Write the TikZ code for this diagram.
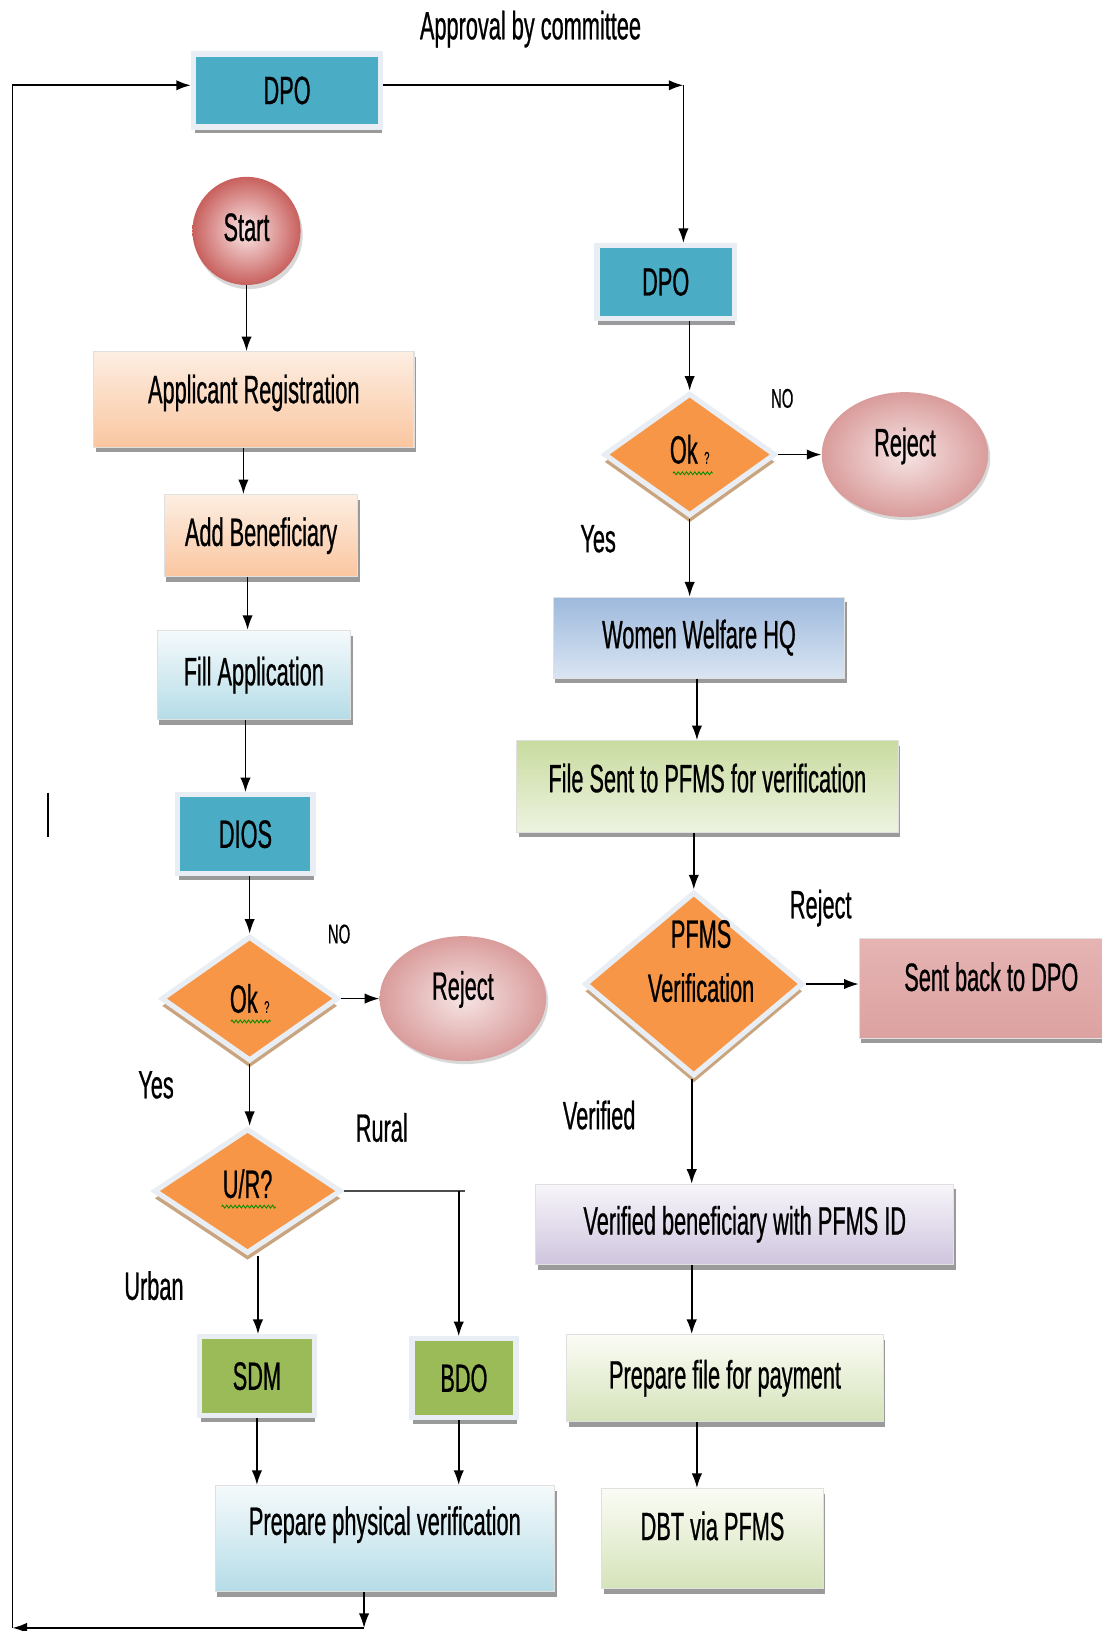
\documentclass[tikz,border=0pt]{standalone}
\usepackage{fontspec}
\setmainfont{Liberation Sans}[FakeStretch=0.55,FakeBold=0.6]
\usetikzlibrary{shapes.geometric,shadows,arrows.meta,decorations.pathmorphing}
\definecolor{tealc}{HTML}{4BACC6}
\definecolor{greenc}{HTML}{9BBB59}
\definecolor{orangec}{HTML}{F79646}
\definecolor{framec}{HTML}{E8EEF3}
\definecolor{tanc}{HTML}{C9A47E}
\definecolor{shadc}{HTML}{9A9A9A}
\definecolor{rejin}{HTML}{F6E4E4}
\definecolor{rejout}{HTML}{D99C9B}
\definecolor{peachtop}{HTML}{FDEEE2}
\definecolor{peachbot}{HTML}{FAC6A0}
\definecolor{lbtop}{HTML}{F5FAFC}
\definecolor{lbbot}{HTML}{B5DCE7}
\definecolor{lgtop}{HTML}{FBFCF5}
\definecolor{lgbot}{HTML}{D5E3BA}
\definecolor{startin}{HTML}{FBE8E8}
\definecolor{startout}{HTML}{C8605D}
\definecolor{wwtop}{HTML}{9DB9DC}
\definecolor{wwbot}{HTML}{DAE5F3}
\definecolor{fstop}{HTML}{C9DBA0}
\definecolor{fsbot}{HTML}{EDF3E0}
\definecolor{sbtop}{HTML}{E5B4B3}
\definecolor{sbmid}{HTML}{F4DEDE}
\definecolor{sbbot}{HTML}{DCA2A1}
\definecolor{vbtop}{HTML}{F7F5FA}
\definecolor{vbbot}{HTML}{CFC5DE}
\begin{document}
\begin{tikzpicture}[x=0.5pt,y={(0pt,-0.5pt)},
  every node/.style={font=\fontsize{19}{22}\selectfont, text=black},
  up/.style={text height=13.6pt, text depth=#1},
  lbl/.style={inner sep=0pt},
  sm/.style={inner sep=0pt, font=\fontsize{13}{15}\selectfont},
  framebox/.style={rectangle, draw=framec, line width=2.5pt, inner sep=0pt,
    drop shadow={shadow xshift=0.5pt, shadow yshift=-3pt, fill=shadc, opacity=1}},
  gbox/.style={rectangle, draw=black!12, line width=0.5pt, inner sep=0pt,
    drop shadow={shadow xshift=1pt, shadow yshift=-2.5pt, fill=shadc, opacity=1}},
  dia/.style={diamond, fill=orangec, draw=framec, line width=2.5pt, inner sep=0pt,
    drop shadow={shadow xshift=0pt, shadow yshift=-3.5pt, fill=tanc, opacity=1}},
  rej/.style={ellipse, inner sep=0pt, draw=none, inner color=rejin, outer color=rejout,
    minimum width=80pt, minimum height=60pt,
    drop shadow={shadow xshift=1pt, shadow yshift=-1.5pt, fill=black!25, opacity=0.6}},
  arr/.style={-{Latex[length=7pt,width=5pt]}, line width=0.75pt},
  spell/.style={decorate, decoration={zigzag, segment length=2pt, amplitude=0.7pt},
    draw=green!55!black, line width=0.4pt},
  peach/.style={gbox, top color=peachtop, bottom color=peachbot},
  lblue/.style={gbox, top color=lbtop, bottom color=lbbot},
  lgreen/.style={gbox, top color=lgtop, bottom color=lgbot}
]
\useasboundingbox (0,0) rectangle (1059,1568);
\fill[white] (0,0) rectangle (1059,1568);

% ---------- left column ----------
\node[framebox, fill=tealc, minimum width=90pt, minimum height=35pt] (dpo1) at (276,87) {DPO};
\node[lbl] (appr) at (510,28) {Approval by committee};
\node[circle, inner sep=0pt, minimum size=52pt, inner color=startin, outer color=startout, up=4pt,
  drop shadow={shadow xshift=1pt, shadow yshift=-2pt, fill=black!25, opacity=0.6}] (start) at (237,222) {Start};
\node[peach, up=10pt, minimum width=154pt, minimum height=46pt] (appreg) at (244,384) {Applicant Registration};
\node[peach, minimum width=93pt, minimum height=39.5pt] (addben) at (251,515) {Add Beneficiary};
\node[lblue, minimum width=93pt, minimum height=43pt] (fillapp) at (244,649) {Fill Application};
\node[framebox, fill=tealc, minimum width=65pt, minimum height=38pt] (dios) at (236,802) {DIOS};
\node[dia, minimum width=85pt, minimum height=60pt] (ok1) at (240,960) {Ok\,{\fontsize{8}{9}\selectfont ?}};
\node[rej, up=12.5pt] (rej1) at (445,960) {Reject};
\node[dia, up=7pt, minimum width=90pt, minimum height=60pt] (ur) at (238,1145) {U/R?};
\node[framebox, fill=greenc, minimum width=55pt, minimum height=38pt] (sdm) at (247,1323) {SDM};
\node[framebox, fill=greenc, minimum width=50pt, minimum height=38pt] (bdo) at (446,1325) {BDO};
\node[lblue, up=17pt, minimum width=163pt, minimum height=51pt] (prepphys) at (370,1479) {Prepare physical verification};

% ---------- right column ----------
\node[framebox, fill=tealc, minimum width=66pt, minimum height=35pt] (dpo2) at (640,271) {DPO};
\node[dia, up=5pt, minimum width=82.5pt, minimum height=59pt] (ok2) at (663,437) {Ok\,{\fontsize{8}{9}\selectfont ?}};
\node[rej, up=12pt] (rej2) at (870,437) {Reject};
\node[gbox, top color=wwtop, bottom color=wwbot, minimum width=140pt, minimum height=39pt] (wwhq) at (672,613) {Women Welfare HQ};
\node[gbox, up=8pt, top color=fstop, bottom color=fsbot, minimum width=183.5pt, minimum height=44pt] (filesent) at (680,756) {File Sent to PFMS for verification};
\node[dia, minimum width=105pt, minimum height=88.5pt] (pfms) at (667,946) {};
\node[lbl, align=center, font=\fontsize{19}{26}\selectfont] (pfmstxt) at (674,924) {PFMS\\Verification};
\node[gbox, up=11pt, top color=sbtop, middle color=sbmid, bottom color=sbbot, minimum width=127pt, minimum height=48pt] (sentback) at (953,950) {Sent back to DPO};
\node[gbox, top color=vbtop, bottom color=vbbot, minimum width=201pt, minimum height=38.5pt] (verben) at (716,1177) {Verified beneficiary with PFMS ID};
\node[lgreen, minimum width=152pt, minimum height=42pt] (prepfile) at (697,1325) {Prepare file for payment};
\node[lgreen, up=12pt, minimum width=106.5pt, minimum height=48pt] (dbt) at (685,1479) {DBT via PFMS};

% ---------- labels ----------
\node[sm] (no2) at (752,383) {NO};
\node[lbl] (yes2) at (575,518) {Yes};
\node[sm] (no1) at (326,898) {NO};
\node[lbl] (yes1) at (150,1043) {Yes};
\node[lbl] (rural) at (367,1084) {Rural};
\node[lbl] (urban) at (148,1236) {Urban};
\node[lbl] (rejl) at (789,873) {Reject};
\node[lbl] (verl) at (576,1072) {Verified};
\draw[line width=0.9pt] (46,762) -- (46,805);

% spelling underlines
\draw[spell] ([xshift=-9pt,yshift=-11pt]ok1.center) -- ++(19pt,0);
\draw[spell] ([xshift=-8pt,yshift=-9pt]ok2.center) -- ++(19pt,0);
\draw[spell] ([xshift=-12.5pt,yshift=-7.5pt]ur.center) -- ++(26pt,0);

% ---------- connectors ----------
\coordinate (rc) at (441,1145);
\coordinate (rx) at (447,1145);
\coordinate (b1) at (350,1565);
\coordinate (b0) at (12,1565);
\coordinate (t0) at (12,82);
\coordinate (tr) at (657,82);

\draw[arr] (start.south) -- (start.south |- appreg.north);
\draw[arr] ([xshift=-5pt]appreg.south) -- ([xshift=-5pt]appreg.south |- addben.north);
\draw[arr] ([xshift=-6.5pt]addben.south) -- ([xshift=-6.5pt]addben.south |- fillapp.north);
\draw[arr] ([xshift=-4pt]fillapp.south) -- ([xshift=-4pt]fillapp.south |- dios.north);
\draw[arr] (ok1.north |- dios.south) -- (ok1.north);
\draw[arr] (ok1.east) -- (rej1.west);
\draw[arr] (ok1.south) -- (ok1.south |- ur.north);
\draw[line width=1.3pt, black!70] (ur.east) -- (rx);
\draw[arr] (rc) -- (rc |- bdo.north);
\draw[arr] ([xshift=5pt]ur.south) -- ([xshift=5pt]ur.south |- sdm.north);
\draw[arr] (sdm.south) -- (sdm.south |- prepphys.north);
\draw[arr] (rc |- bdo.south) -- (rc |- prepphys.north);
\draw[arr] (prepphys.south -| b1) -- (b1);
\draw[arr, line width=0.9pt] (b1) -- (b0);
\draw[arr, line width=0.9pt] (b0) -- (t0) -- (t0 -| dpo1.west);

\draw[arr, line width=0.9pt] (dpo1.east |- tr) -- (tr);
\draw[arr] (tr) -- (tr |- dpo2.north);
\draw[arr] (ok2.north |- dpo2.south) -- (ok2.north);
\draw[arr] (ok2.east) -- (rej2.west);
\draw[arr] (ok2.south) -- (ok2.south |- wwhq.north);
\draw[arr] ([xshift=-1pt]wwhq.south) -- ([xshift=-1pt]wwhq.south |- filesent.north);
\draw[arr] (pfms.north |- filesent.south) -- (pfms.north);
\draw[arr] (pfms.east) -- (pfms.east -| sentback.west);
\draw[arr] ([xshift=-1pt]pfms.south) -- ([xshift=-1pt]pfms.south |- verben.north);
\draw[arr] ([xshift=-25.5pt]verben.south) -- ([xshift=-25.5pt]verben.south |- prepfile.north);
\draw[arr] ([xshift=-13.5pt]prepfile.south) -- ([xshift=-13.5pt]prepfile.south |- dbt.north);
\end{tikzpicture}
\end{document}
